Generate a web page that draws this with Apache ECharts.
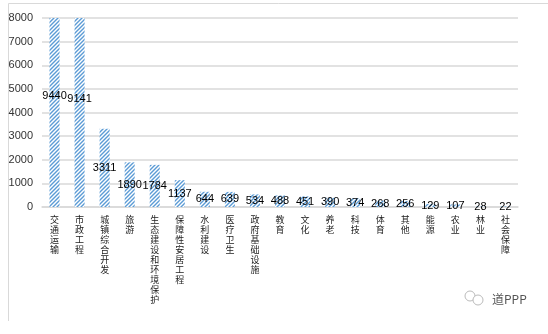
<!DOCTYPE html>
<html><head><meta charset="utf-8">
<script src="https://cdn.jsdelivr.net/npm/echarts@6/dist/echarts.min.js"></script>
<style>html,body{margin:0;padding:0;background:#fff}#c{width:548px;height:334px}</style>
</head><body><div id="c"></div>
<script>
var categories = ['交通运输','市政工程','城镇综合开发','旅游','生态建设和环境保护','保障性安居工程','水利建设','医疗卫生','政府基础设施','教育','文化','养老','科技','体育','其他','能源','农业','林业','社会保障'];
var values = [9440,9141,3311,1890,1784,1137,644,639,534,488,451,390,374,268,256,129,107,28,22];
var yTicks = [0,1000,2000,3000,4000,5000,6000,7000,8000];

function stripes(){
  var c = document.createElement('canvas');
  c.width = 4; c.height = 4;
  var g = c.getContext('2d');
  g.fillStyle = '#ffffff'; g.fillRect(0,0,4,4);
  g.strokeStyle = '#5b9bd5'; g.lineWidth = 1.4;
  g.beginPath();
  g.moveTo(0,4); g.lineTo(4,0);
  g.moveTo(-1,1); g.lineTo(1,-1);
  g.moveTo(3,5); g.lineTo(5,3);
  g.stroke();
  return c;
}

var chart = echarts.init(document.getElementById('c'));
chart.setOption({
  animation: false,
  backgroundColor: '#fff',
  grid: {left: 42, right: 30, top: 18, bottom: 127},
  xAxis: {
    type: 'category', data: categories,
    axisLine: {lineStyle: {color: '#d9d9d9', width: 1.5}},
    axisTick: {show: false},
    axisLabel: {interval: 0, margin: 8, fontSize: 9, lineHeight: 10, color: '#222',
      fontFamily: 'Noto Sans CJK SC',
      formatter: function(v){ return v.split('').join('\n'); }}
  },
  yAxis: {
    type: 'value', min: yTicks[0], max: yTicks[yTicks.length-1], interval: 1000,
    axisLine: {show: false}, axisTick: {show: false},
    axisLabel: {fontSize: 11, color: '#333', margin: 9, fontFamily: 'Liberation Sans',
      formatter: function(v){ return String(v); }},
    splitLine: {lineStyle: {color: '#d9d9d9', width: 1.5}}
  },
  graphic: [
    {type: 'line', shape: {x1: 8.5, y1: 3.5, x2: 548, y2: 3.5}, style: {stroke: '#d9d9d9', lineWidth: 1}, silent: true},
    {type: 'line', shape: {x1: 8.5, y1: 3.5, x2: 8.5, y2: 321}, style: {stroke: '#d9d9d9', lineWidth: 1}, silent: true},
    {type: 'circle', shape: {cx: 470, cy: 296, r: 5}, style: {fill: 'none', stroke: '#bbb', lineWidth: 1}, silent: true},
    {type: 'circle', shape: {cx: 478, cy: 300, r: 5}, style: {fill: '#fff', stroke: '#bbb', lineWidth: 1}, silent: true},
    {type: 'text', left: 492, top: 293, style: {text: '道PPP', fontSize: 12, fill: '#555', fontFamily: 'Noto Sans CJK SC'}, silent: true}
  ],
  series: [
    {type: 'bar', data: values, barWidth: '40%', clip: true,
     itemStyle: {color: {image: stripes(), repeat: 'repeat'}}},
    {type: 'bar', data: values, barWidth: '40%', barGap: '-100%', clip: false, silent: true,
     itemStyle: {color: 'rgba(0,0,0,0)'},
     label: {show: true, position: 'inside', color: '#000', fontSize: 11, textBorderWidth: 0,
       fontFamily: 'Liberation Sans'}}
  ]
});
</script></body></html>
